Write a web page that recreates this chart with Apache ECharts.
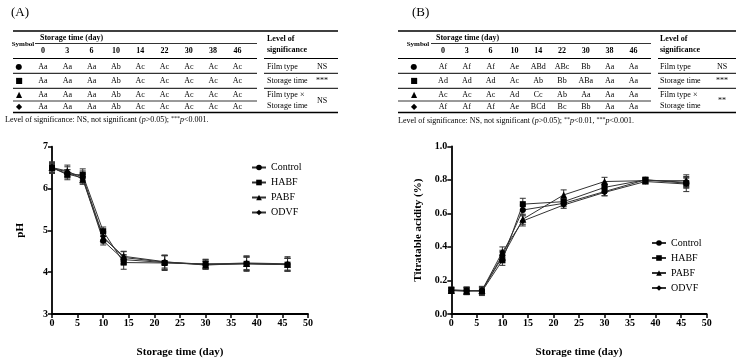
<!DOCTYPE html>
<html><head><meta charset="utf-8">
<script src="https://cdn.jsdelivr.net/npm/echarts@6/dist/echarts.min.js"></script>
<style>html,body{margin:0;padding:0;background:#fff}#c{width:745px;height:359px}</style>
</head><body><div id="c"></div>
<script>
// ---------- data ----------
const days = [0, 3, 6, 10, 14, 22, 30, 38, 46];
const seriesNames = ['Control', 'HABF', 'PABF', 'ODVF'];
const symbols = ['circle', 'rect', 'triangle', 'diamond'];

const pH_Control = [6.50, 6.35, 6.25, 4.75, 4.30, 4.23, 4.18, 4.20, 4.18];
const pH_HABF    = [6.50, 6.33, 6.33, 4.98, 4.23, 4.22, 4.20, 4.20, 4.18];
const pH_PABF    = [6.50, 6.42, 6.22, 4.82, 4.38, 4.25, 4.17, 4.21, 4.19];
const pH_ODVF    = [6.48, 6.40, 6.28, 4.85, 4.35, 4.24, 4.19, 4.22, 4.20];
const pHErr_Control = [0.12, 0.10, 0.12, 0.10, 0.12, 0.16, 0.08, 0.16, 0.15];
const pHErr_HABF    = [0.10, 0.12, 0.14, 0.10, 0.16, 0.18, 0.10, 0.18, 0.16];
const pHErr_PABF    = [0.14, 0.14, 0.12, 0.12, 0.12, 0.15, 0.10, 0.15, 0.14];
const pHErr_ODVF    = [0.10, 0.12, 0.14, 0.12, 0.14, 0.17, 0.12, 0.17, 0.17];

const TA_Control = [0.14, 0.14, 0.14, 0.35, 0.62, 0.66, 0.73, 0.800, 0.785];
const TA_HABF    = [0.145, 0.14, 0.135, 0.32, 0.655, 0.67, 0.755, 0.800, 0.780];
const TA_PABF    = [0.14, 0.135, 0.14, 0.34, 0.565, 0.71, 0.79, 0.795, 0.795];
const TA_ODVF    = [0.14, 0.14, 0.14, 0.37, 0.555, 0.65, 0.725, 0.790, 0.775];
const TAErr_Control = [0.015, 0.02, 0.02, 0.03, 0.03, 0.02, 0.025, 0.015, 0.03];
const TAErr_HABF    = [0.015, 0.02, 0.025, 0.03, 0.035, 0.02, 0.025, 0.015, 0.03];
const TAErr_PABF    = [0.015, 0.02, 0.025, 0.03, 0.03, 0.03, 0.025, 0.015, 0.035];
const TAErr_ODVF    = [0.015, 0.02, 0.02, 0.03, 0.03, 0.02, 0.02, 0.015, 0.045];

// table texts
const tableDays = ['0', '3', '6', '10', '14', '22', '30', '38', '46'];
const tableSymbols = ['●', '■', '▲', '◆'];
const tableA = [
  ['Aa','Aa','Aa','Ab','Ac','Ac','Ac','Ac','Ac'],
  ['Aa','Aa','Aa','Ab','Ac','Ac','Ac','Ac','Ac'],
  ['Aa','Aa','Aa','Ab','Ac','Ac','Ac','Ac','Ac'],
  ['Aa','Aa','Aa','Ab','Ac','Ac','Ac','Ac','Ac']
];
const tableB = [
  ['Af','Af','Af','Ae','ABd','ABc','Bb','Aa','Aa'],
  ['Ad','Ad','Ad','Ac','Ab','Bb','ABa','Aa','Aa'],
  ['Ac','Ac','Ac','Ad','Cc','Ab','Aa','Aa','Aa'],
  ['Af','Af','Af','Ae','BCd','Bc','Bb','Aa','Aa']
];
const sigLabels = ['Film type', 'Storage time', 'Film type ×', 'Storage time'];
const sigA = ['NS', '***', 'NS'];
const sigB = ['NS', '***', '**'];

// ---------- build ----------
const SERIF = '"Liberation Serif", "DejaVu Serif", serif';
const pHData = [pH_Control, pH_HABF, pH_PABF, pH_ODVF];
const pHErr = [pHErr_Control, pHErr_HABF, pHErr_PABF, pHErr_ODVF];
const TAData = [TA_Control, TA_HABF, TA_PABF, TA_ODVF];
const TAErr = [TAErr_Control, TAErr_HABF, TAErr_PABF, TAErr_ODVF];

function errRender(params, api) {
  const x = api.value(0), lo = api.value(1), hi = api.value(2);
  const p1 = api.coord([x, lo]), p2 = api.coord([x, hi]);
  const w = 3;
  const st = {stroke: '#333', lineWidth: 1};
  return {type: 'group', children: [
    {type: 'line', shape: {x1: p1[0], y1: p1[1], x2: p2[0], y2: p2[1]}, style: st},
    {type: 'line', shape: {x1: p1[0]-w, y1: p1[1], x2: p1[0]+w, y2: p1[1]}, style: st},
    {type: 'line', shape: {x1: p2[0]-w, y1: p2[1], x2: p2[0]+w, y2: p2[1]}, style: st}
  ]};
}

const series = [];
[[pHData, pHErr, 0], [TAData, TAErr, 1]].forEach(([vals, errs, gi]) => {
  vals.forEach((arr, i) => {
    series.push({
      type: 'custom', name: seriesNames[i] + '_err' + gi, xAxisIndex: gi, yAxisIndex: gi,
      renderItem: errRender, encode: {x: 0, y: [1, 2]}, z: 1, silent: true,
      data: days.map((d, k) => [d, arr[k] - errs[i][k], arr[k] + errs[i][k]])
    });
  });
  vals.forEach((arr, i) => {
    series.push({
      type: 'line', name: seriesNames[i], xAxisIndex: gi, yAxisIndex: gi,
      data: days.map((d, k) => [d, arr[k]]),
      symbol: symbols[i], symbolSize: i === 2 ? 7 : 6, showAllSymbol: true,
      lineStyle: {color: '#333', width: 1}, itemStyle: {color: '#000'}, z: 3
    });
  });
});

function mkX(gi) {
  return {
    type: 'value', gridIndex: gi, min: 0, max: 50, interval: 5,
    name: 'Storage time (day)', nameLocation: 'middle', nameGap: 33,
    nameTextStyle: {fontFamily: SERIF, fontWeight: 'bold', fontSize: 11, color: '#000'},
    axisLine: {lineStyle: {color: '#000', width: 1.8}},
    axisTick: {length: 4, lineStyle: {color: '#000', width: 1.5}},
    axisLabel: {fontFamily: SERIF, fontWeight: 'bold', fontSize: 10, color: '#000', margin: 4},
    splitLine: {show: false}
  };
}
function mkY(gi, min, max, interval, name, fmt, gap) {
  return {
    type: 'value', gridIndex: gi, min, max, interval,
    name, nameLocation: 'middle', nameGap: gap,
    nameTextStyle: {fontFamily: SERIF, fontWeight: 'bold', fontSize: 11, color: '#000'},
    axisLine: {show: true, lineStyle: {color: '#000', width: 1.8}},
    axisTick: {show: true, length: 4, lineStyle: {color: '#000', width: 1.5}},
    axisLabel: {fontFamily: SERIF, fontWeight: 'bold', fontSize: 10, color: '#000', margin: 4, formatter: fmt},
    splitLine: {show: false}
  };
}

// table graphics
const g = [];
function txt(x, y, s, opt) {
  g.push({type: 'text', x, y, style: Object.assign({
    text: s, fontFamily: SERIF, fontSize: 8, fill: '#000', textVerticalAlign: 'middle', textAlign: 'left'
  }, opt || {})});
}
function ln(x1, y1, x2, y2, w) {
  g.push({type: 'line', shape: {x1, y1, x2, y2}, style: {stroke: '#000', lineWidth: w || 0.8}});
}
function buildTable(L, cells, sig, label) {
  txt(L.labelX, 13, label, {fontSize: 13});
  ln(L.x0, 31, L.x1, 31, 1.3);
  txt(L.symX, 44, 'Symbol', {fontWeight: 'bold', fontSize: 7, textAlign: 'center'});
  txt(L.stX, 38, 'Storage time (day)', {fontWeight: 'bold', fontSize: 8});
  ln(L.stX - 5, 43.5, L.xl, 43.5, 0.8);
  tableDays.forEach((d, k) => txt(L.c0 + k * L.dc, 51, d, {fontWeight: 'bold', textAlign: 'center'}));
  txt(L.sx, 39, 'Level of', {fontWeight: 'bold'});
  txt(L.sx, 50, 'significance', {fontWeight: 'bold'});
  const rowY = [66.5, 81, 95, 107];
  const lineY = [58.5, 73.3, 88.3];
  lineY.forEach(y => { ln(L.x0, y, L.xl, y, 1); ln(L.xr, y, L.x1, y, 1); });
  ln(L.x0, 101, L.xl, 101, 0.8);
  ln(L.x0, 112.5, L.x1, 112.5, 1.3);
  rowY.forEach((y, r) => {
    txt(L.symX - 4, y, tableSymbols[r], {fontSize: 8, fontFamily: '"DejaVu Sans", sans-serif', textAlign: 'center'});
    cells[r].forEach((c, k) => txt(L.c0 + k * L.dc, y, c, {textAlign: 'center'}));
  });
  txt(L.sx, 66.5, sigLabels[0]);
  txt(L.sx, 81, sigLabels[1]);
  txt(L.sx, 95, sigLabels[2]);
  txt(L.sx, 106, sigLabels[3]);
  txt(L.nx, 66.5, sig[0], {textAlign: 'center'});
  txt(L.nx, 81, sig[1], {textAlign: 'center'});
  txt(L.nx, 100.5, sig[2], {textAlign: 'center'});
}
buildTable({labelX: 11, x0: 13, x1: 338, xl: 257, xr: 264, symX: 23, stX: 40, c0: 43, dc: 24.3, sx: 267, nx: 322}, tableA, sigA, '(A)');
buildTable({labelX: 412, x0: 398, x1: 736, xl: 651, xr: 658, symX: 418, stX: 436, c0: 443, dc: 23.8, sx: 660, nx: 722}, tableB, sigB, '(B)');

// footnotes
const richFoot = {n: {fontFamily: SERIF, fontSize: 8, fill: '#000'}, i: {fontFamily: SERIF, fontSize: 8, fontStyle: 'italic', fill: '#000'},
                  s: {fontFamily: SERIF, fontSize: 6, fill: '#000', padding: [0, 0, 4, 0]}};
g.push({type: 'text', x: 5, y: 120, style: {
  text: '{n|Level of significance: NS, not significant (}{i|p}{n|>0.05); }{s|***}{i|p}{n|<0.001.}',
  textVerticalAlign: 'middle', rich: richFoot
}});
g.push({type: 'text', x: 398, y: 121, style: {
  text: '{n|Level of significance: NS, not significant (}{i|p}{n|>0.05); }{s|**}{i|p}{n|<0.01, }{s|***}{i|p}{n|<0.001.}',
  textVerticalAlign: 'middle', rich: richFoot
}});

const legendCommon = {
  orient: 'vertical', itemWidth: 14, itemHeight: 7, itemGap: 5,
  textStyle: {fontFamily: SERIF, fontSize: 10, color: '#000'},
  data: seriesNames, selectedMode: false, inactiveColor: '#000'
};

const option = {
  animation: false,
  backgroundColor: '#fff',
  grid: [
    {left: 52, top: 146.7, width: 256, height: 170.6},
    {left: 451.3, top: 146.3, width: 255.4, height: 171.4}
  ],
  xAxis: [mkX(0), mkX(1)],
  yAxis: [
    mkY(0, 3, 7, 1, 'pH', v => v, 26),
    mkY(1, 0, 1, 0.2, 'Titratable acidity (%)', v => v.toFixed(1), 28)
  ],
  legend: [
    Object.assign({left: 246, top: 157.5}, legendCommon),
    Object.assign({left: 646, top: 233}, legendCommon)
  ],
  graphic: g,
  series
};
const chart = echarts.init(document.getElementById('c'), null, {renderer: 'canvas'});
chart.setOption(option);
</script></body></html>
